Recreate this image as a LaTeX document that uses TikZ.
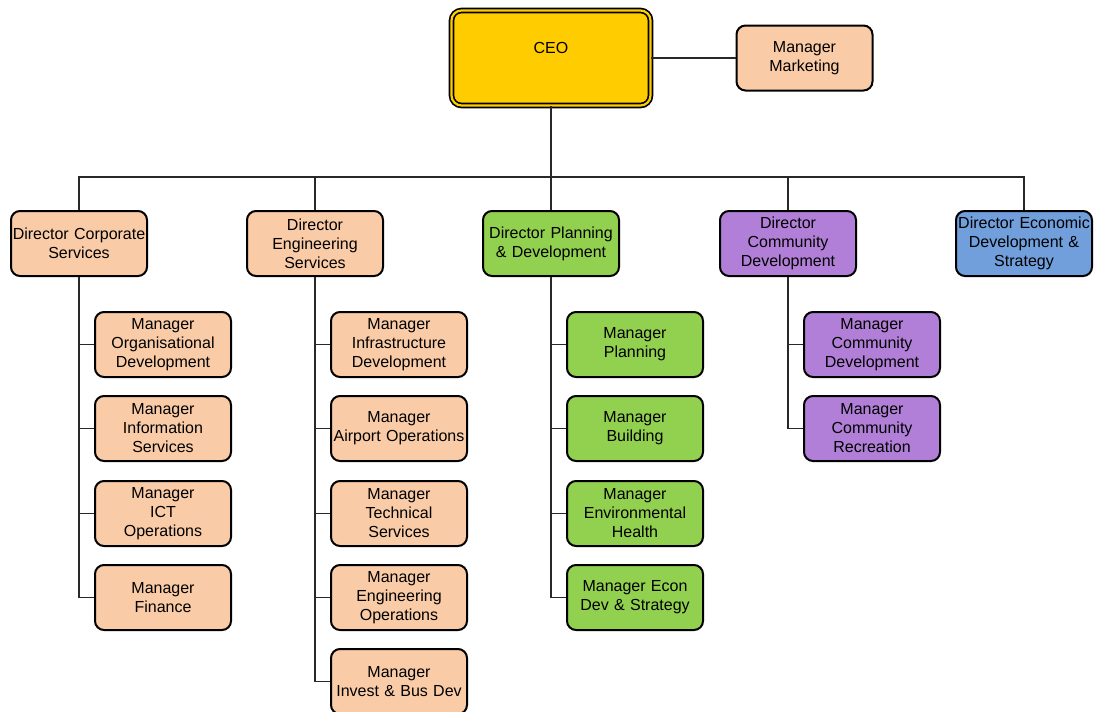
\documentclass[tikz,border=0pt]{standalone}
\usepackage{fontspec}
\setmainfont{Liberation Sans}
\begin{document}
\definecolor{peach}{RGB}{249,203,167}
\definecolor{leaf}{RGB}{146,208,80}
\definecolor{lilac}{RGB}{177,127,215}
\definecolor{sky}{RGB}{112,159,220}
\definecolor{gold}{RGB}{255,204,0}
\definecolor{wire}{RGB}{40,40,40}
\begin{tikzpicture}[x=1pt,y=-1pt,
  box/.style={draw=black,line width=2pt,rounded corners=9pt,minimum width=134pt,minimum height=65pt,
    inner sep=0pt,align=center,font=\fontsize{16}{19}\selectfont,text width=136pt},
  corp/.style={box,fill=peach},
  plan/.style={box,fill=leaf},
  comm/.style={box,fill=lilac},
  econ/.style={box,fill=sky},
  link/.style={draw=wire,line width=1.4pt}]
\useasboundingbox (0,0) rectangle (1098,712);

% top level
\node[draw=black,line width=1.7pt,double=gold,double distance=2.2pt,fill=gold,rounded corners=10pt,
  minimum width=199pt,minimum height=95pt,inner sep=0pt,
  label={[font=\fontsize{16}{19}\selectfont,yshift=10pt]center:CEO}] (ceo) at (551,58) {};
\node[corp] (mkt) at (804.5,58) {Manager\\Marketing};

% directors
\node[corp] (dcs) at (79,243.5) {Director Corporate\\Services};
\node[corp] (des) at (315,243.5) {Director\\Engineering\\Services};
\node[plan] (dpd) at (551,243.5) {Director Planning\\\& Development};
\node[comm] (dcd) at (788,243.5) {Director\\Community\\Development};
\node[econ] (ded) at (1024,243.5) {Director Economic\\Development \&\\Strategy};

% corporate services
\node[corp] (c1) at (163,344.5) {Manager\\Organisational\\Development};
\node[corp] (c2) at (163,428.5) {Manager\\Information\\Services};
\node[corp] (c3) at (163,513.5) {Manager\\ICT\\Operations};
\node[corp] (c4) at (163,597.5) {Manager\\Finance};

% engineering services
\node[corp] (e1) at (399,344.5) {Manager\\Infrastructure\\Development};
\node[corp] (e2) at (399,428.5) {Manager\\Airport Operations};
\node[corp] (e3) at (399,513.5) {Manager\\Technical\\Services};
\node[corp] (e4) at (399,597.5) {Manager\\Engineering\\Operations};
\node[corp] (e5) at (399,681.5) {Manager\\Invest \& Bus Dev};

% planning & development
\node[plan] (p1) at (635,344.5) {Manager\\Planning};
\node[plan] (p2) at (635,428.5) {Manager\\Building};
\node[plan] (p3) at (635,513.5) {Manager\\Environmental\\Health};
\node[plan] (p4) at (635,597.5) {Manager Econ\\Dev \& Strategy};

% community development
\node[comm] (m1) at (872,344.5) {Manager\\Community\\Development};
\node[comm] (m2) at (872,428.5) {Manager\\Community\\Recreation};

% connectors
\coordinate (bus) at (551,177);
\draw[link] (ceo.east) -- (mkt.west);
\draw[link] (ceo.south) -- (bus);
\foreach \d in {dcs,des,dpd,dcd,ded} \draw[link] (bus) -| (\d.north);
\foreach \m in {c1,c2,c3,c4} \draw[link] (dcs.south) |- (\m.west);
\foreach \m in {e1,e2,e3,e4,e5} \draw[link] (des.south) |- (\m.west);
\foreach \m in {p1,p2,p3,p4} \draw[link] (dpd.south) |- (\m.west);
\foreach \m in {m1,m2} \draw[link] (dcd.south) |- (\m.west);
\end{tikzpicture}
\end{document}
